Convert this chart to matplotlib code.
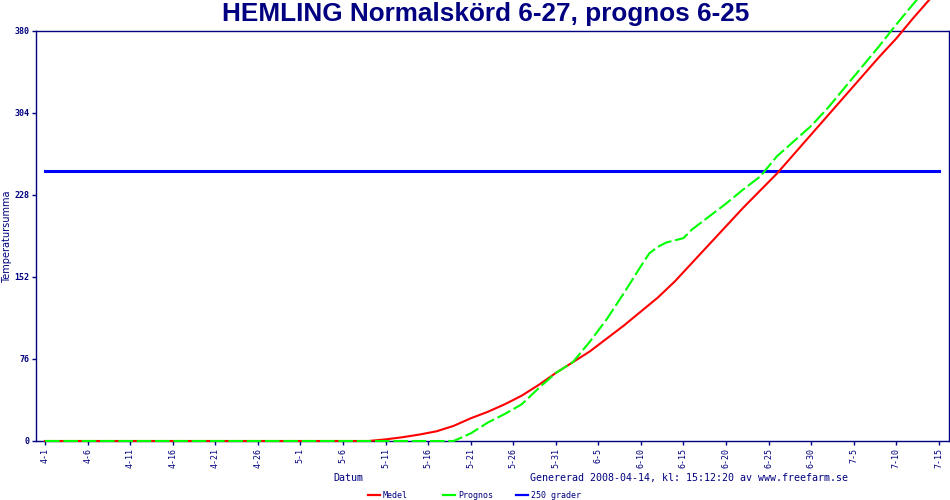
import matplotlib.pyplot as plt
from matplotlib.lines import Line2D

# days counted from 4-1
medel_day = [0, 38, 40, 42, 44, 46, 48, 50, 52, 54, 56, 58, 60, 62, 64, 66, 68, 70, 72,
             74, 76, 78, 80, 82, 84, 86, 88, 90, 92, 94, 96, 98, 100, 102, 104]
medel_val = [0, 0, 1.5, 3.5, 6, 9, 14, 21, 27, 34, 42, 52, 63, 73, 83, 95, 107, 120, 133,
             148, 165, 182, 199, 216, 232, 248, 266, 284, 302, 320, 338, 356, 373, 392, 410]

prognos_day = [0, 48, 50, 52, 54, 56, 58, 60, 62, 64, 66, 68, 70, 71, 72, 73, 74, 75, 76,
               78, 80, 82, 84, 86, 88, 90, 92, 94, 96, 98, 100, 102, 103]
prognos_val = [0, 0, 7, 17, 25, 34, 49, 63, 73, 92, 113, 137, 162, 174, 180, 184, 186, 188, 196,
               208, 220, 233, 245, 264, 278, 292, 309, 328, 347, 366, 386, 405, 414]

grader_day = [0, 105]
grader_val = [250, 250]

tick_days = list(range(0, 106, 5))
tick_labels = ['4-1', '4-6', '4-11', '4-16', '4-21', '4-26', '5-1', '5-6', '5-11', '5-16',
               '5-21', '5-26', '5-31', '6-5', '6-10', '6-15', '6-20', '6-25', '6-30',
               '7-5', '7-10', '7-15']
y_ticks = [0, 76, 152, 228, 304, 380]

navy = '#000080'
mono = 'DejaVu Sans Mono'

fig = plt.figure(figsize=(9.5, 5), dpi=100)
ax = fig.add_axes([36 / 950, 59 / 500, 913 / 950, 410 / 500])

ax.plot(medel_day, medel_val, color='#ff0000', lw=1.5, clip_on=False, zorder=3)
ax.plot(prognos_day, prognos_val, color='#00ff00', lw=1.5, dashes=(7, 1.8),
        clip_on=False, zorder=4)
ax.plot(grader_day, grader_val, color='#0000ff', lw=2.2, zorder=2)

ax.set_xlim(-1.06, 106.2)
ax.set_ylim(0, 380)
ax.set_xticks(tick_days)
ax.set_xticklabels(tick_labels, rotation=90, fontsize=6, family=mono, color=navy)
ax.set_yticks(y_ticks)
ax.set_yticklabels([str(v) for v in y_ticks], fontsize=6, family=mono, color=navy,
                   fontweight='bold')
ax.tick_params(colors=navy, length=3, width=1, pad=2)
for s in ax.spines.values():
    s.set_color(navy)
    s.set_linewidth(1)

fig.text(486 / 950, 1 - 14 / 500, 'HEMLING Normalskörd 6-27, prognos 6-25',
         ha='center', va='center', fontsize=18.8, fontweight='bold', color=navy,
         family='Liberation Sans')
fig.text(7 / 950, 1 - 237 / 500, 'Temperatursumma', rotation=90, ha='center',
         va='center', fontsize=7, color=navy)
fig.text(333 / 950, 1 - 478 / 500, 'Datum', ha='left', va='center', fontsize=7.2,
         family=mono, color=navy)
fig.text(530 / 950, 1 - 478 / 500, 'Genererad 2008-04-14, kl: 15:12:20 av www.freefarm.se',
         ha='left', va='center', fontsize=7.2, family=mono, color=navy)

# legend
legend = [('#ff0000', 'Medel', 368), ('#00ff00', 'Prognos', 443), ('#0000ff', '250 grader', 516)]
for col, lab, x0 in legend:
    fig.add_artist(Line2D([x0 / 950, (x0 + 12) / 950], [5 / 500, 5 / 500], color=col, lw=1.6))
    fig.text((x0 + 15) / 950, 5 / 500, lab, ha='left', va='center', fontsize=6,
             family=mono, color=navy)

fig.savefig('out.png', dpi=100)
